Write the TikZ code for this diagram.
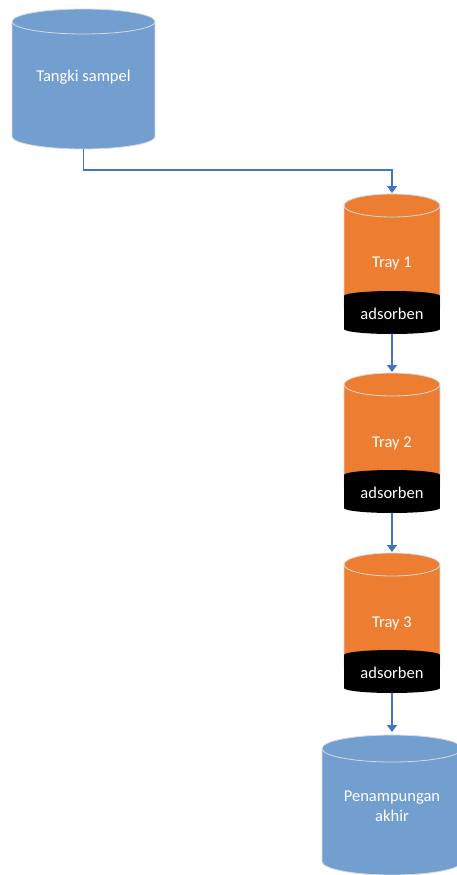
\documentclass[tikz,border=0pt]{standalone}
\usepackage{fontspec}
\setmainfont{Carlito}
\usetikzlibrary{arrows.meta}
\definecolor{tankblue}{RGB}{114,159,207}
\definecolor{trayorange}{RGB}{237,125,49}
\definecolor{linkblue}{RGB}{68,114,196}
\definecolor{rimgray}{RGB}{214,218,224}
% \drawcan{cx}{top}{bottom}{half width}{ry}{fill}{outline options}
\newcommand{\drawcan}[7]{%
  \fill[#6] (#1-#4,#2+#5) rectangle (#1+#4,#3-#5);
  \fill[#6] (#1,#2+#5) ellipse[x radius=#4pt, y radius=#5pt];
  \fill[#6] (#1,#3-#5) ellipse[x radius=#4pt, y radius=#5pt];
  \draw[#7] (#1-#4,#2+#5) -- (#1-#4,#3-#5)
     arc[start angle=180, end angle=360, x radius=#4pt, y radius=#5pt]
     -- (#1+#4,#2+#5);
  \draw[#7] (#1,#2+#5) ellipse[x radius=#4pt, y radius=#5pt];
}
\tikzset{
  box/.style={draw=none, inner sep=0pt, outer sep=0pt, rectangle},
  lbl/.style={text=white, font=\fontsize{16.5}{19.5}\selectfont, inner sep=0pt, align=center},
  rim/.style={draw=rimgray, line width=0.8pt},
  norim/.style={draw=none},
  link/.style={draw=linkblue, line width=1.3pt, -{Triangle[length=7pt, width=10pt]}},
}
\begin{document}
\begin{tikzpicture}[x=1pt, y=-1pt]
\useasboundingbox (0,0) rectangle (457,875);
\clip (0,0) rectangle (457,875);
% bounding boxes of the vessels
\node[box, minimum width=143pt, minimum height=140pt] (tank) at (83.5,79) {};
\node[box, minimum width=96pt, minimum height=140pt] (tray1) at (392,264) {};
\node[box, minimum width=96pt, minimum height=140pt] (tray2) at (392,443) {};
\node[box, minimum width=96pt, minimum height=140pt] (tray3) at (392,623) {};
\node[box, minimum width=140pt, minimum height=140pt] (final) at (392,805) {};
% vessel bodies
\drawcan{83.5}{9}{149}{71.5}{12.5}{tankblue}{rim}
\foreach \t in {194,373,553}{
  \drawcan{392}{\t}{\t+125}{48}{11.5}{trayorange}{rim}
  \drawcan{392}{\t+97}{\t+140}{48}{5}{black}{norim}
}
\drawcan{392}{735}{875}{70}{13.5}{tankblue}{rim}
% labels
\node[lbl] (tanklbl) at (83.5,77) {Tangki sampel};
\node[lbl] (t1lbl) at (392,264) {Tray 1};
\node[lbl] (a1lbl) at (392,314) {adsorben};
\node[lbl] (t2lbl) at (392,443) {Tray 2};
\node[lbl] (a2lbl) at (392,493) {adsorben};
\node[lbl] (t3lbl) at (392,623) {Tray 3};
\node[lbl] (a3lbl) at (392,673) {adsorben};
\node[lbl] (finallbl) at (392,806.5) {Penampungan\\akhir};
% connectors
\draw[link] (tank.south) -- ++(0,21) -| ([yshift=1pt]tray1.north);
\draw[link] (tray1.south) -- ([yshift=1pt]tray2.north);
\draw[link] (tray2.south) -- ([yshift=1pt]tray3.north);
\draw[link] (tray3.south) -- ([yshift=3pt]final.north);
\end{tikzpicture}
\end{document}
